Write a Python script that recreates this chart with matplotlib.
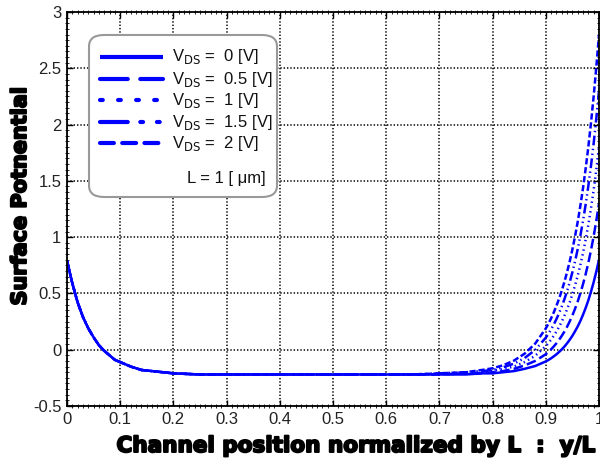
import matplotlib
matplotlib.use("Agg")
import matplotlib.pyplot as plt
import matplotlib.patheffects as pe
from matplotlib.lines import Line2D
from matplotlib.patches import FancyBboxPatch
from matplotlib.ticker import MultipleLocator

plt.rcParams['font.family'] = ['Liberation Sans', 'DejaVu Sans']
plt.rcParams['lines.scale_dashes'] = False

# normalized channel position y/L
pos = [0.00, 0.01, 0.02, 0.03, 0.04, 0.05, 0.06, 0.07, 0.08, 0.09, 0.10,
       0.12, 0.14, 0.16, 0.18, 0.20, 0.25, 0.30, 0.35, 0.40, 0.45, 0.50,
       0.55, 0.60, 0.65, 0.70, 0.75, 0.78, 0.80, 0.82, 0.84, 0.86, 0.88,
       0.90, 0.905, 0.91, 0.915, 0.92, 0.925, 0.93, 0.935, 0.94, 0.945,
       0.95, 0.955, 0.96, 0.965, 0.97, 0.975, 0.98, 0.985, 0.99, 0.995, 1.00]

# source side, identical for every drain bias
src = [0.79, 0.59, 0.42, 0.29, 0.19, 0.11, 0.04, -0.01, -0.05, -0.09, -0.11,
       -0.15, -0.18, -0.19, -0.20, -0.21, -0.22, -0.22, -0.22, -0.22, -0.22,
       -0.22, -0.22, -0.22, -0.22]

# drain side of each curve (from y/L = 0.70 on)
drn_0 = [-0.22, -0.22, -0.21, -0.21, -0.20, -0.19, -0.17, -0.145,
         -0.104, -0.091, -0.076, -0.059, -0.041, -0.020, 0.003, 0.028, 0.057,
         0.089, 0.124, 0.164, 0.207, 0.256, 0.311, 0.372, 0.440, 0.516,
         0.601, 0.695, 0.80]
drn_05 = [-0.22, -0.21, -0.21, -0.20, -0.19, -0.17, -0.14, -0.10,
          -0.04, -0.02, 0.004, 0.029, 0.057, 0.088, 0.123, 0.161, 0.204,
          0.252, 0.305, 0.364, 0.429, 0.502, 0.583, 0.673, 0.773, 0.885,
          1.009, 1.147, 1.30]
drn_1 = [-0.22, -0.21, -0.20, -0.19, -0.17, -0.15, -0.11, -0.054,
         0.032, 0.059, 0.090, 0.124, 0.162, 0.203, 0.250, 0.302, 0.359,
         0.422, 0.493, 0.571, 0.658, 0.754, 0.861, 0.980, 1.112, 1.258,
         1.420, 1.600, 1.80]
drn_15 = [-0.21, -0.20, -0.19, -0.18, -0.156, -0.124, -0.075, -0.002,
          0.107, 0.143, 0.181, 0.225, 0.272, 0.325, 0.384, 0.449, 0.521,
          0.600, 0.689, 0.786, 0.894, 1.014, 1.146, 1.293, 1.456, 1.636,
          1.835, 2.056, 2.30]
drn_2 = [-0.21, -0.20, -0.18, -0.165, -0.138, -0.097, -0.036, 0.054,
         0.189, 0.232, 0.279, 0.332, 0.390, 0.454, 0.525, 0.603, 0.690,
         0.785, 0.891, 1.008, 1.137, 1.280, 1.437, 1.612, 1.804, 2.017,
         2.253, 2.513, 2.80]

vds_labels = ['0', '0.5', '1', '1.5', '2']
series = [src + d for d in (drn_0, drn_05, drn_1, drn_15, drn_2)]

# dash patterns on the curves and (larger) in the key
curve_styles = ['-', (0, (7, 3)), (0, (1, 2.5)), (0, (7, 2.5, 1, 2.5, 1, 2.5)), (0, (4.5, 2))]
key_styles = ['-', (0, (20, 9)), (0, (2, 11)), (0, (20, 9, 2, 10, 2, 9)), (0, (10, 6))]

blue = '#0000ff'

fig = plt.figure(figsize=(6.0, 4.61), dpi=100)
ax = fig.add_axes([67 / 600, 1 - 406 / 461, 532 / 600, 394 / 461])

for ys, ls in zip(series, curve_styles):
    ax.plot(pos, ys, color=blue, lw=1.8, linestyle=ls, solid_capstyle='butt')

ax.set_xlim(0, 1)
ax.set_ylim(-0.5, 3)
ax.set_xticks([0, 0.1, 0.2, 0.3, 0.4, 0.5, 0.6, 0.7, 0.8, 0.9, 1])
ax.set_xticklabels(['0', '0.1', '0.2', '0.3', '0.4', '0.5', '0.6', '0.7', '0.8', '0.9', '1'])
ax.set_yticks([-0.5, 0, 0.5, 1, 1.5, 2, 2.5, 3])
ax.set_yticklabels(['-0.5', '0', '0.5', '1', '1.5', '2', '2.5', '3'])
ax.xaxis.set_minor_locator(MultipleLocator(0.01))
ax.yaxis.set_minor_locator(MultipleLocator(0.05))
ax.tick_params(which='major', direction='in', length=4, width=1.0, labelsize=12,
               colors='black', labelcolor='#222222', pad=4, top=True, right=True)
ax.tick_params(which='minor', direction='inout', length=2.5, width=0.6,
               top=True, right=True)
for sp in ax.spines.values():
    sp.set_linewidth(1.3)
    sp.set_color('black')

ax.grid(True, which='major', color='black', linestyle=(0, (1.0, 1.4)), linewidth=1.1)
ax.set_axisbelow(True)

heavy = [pe.withStroke(linewidth=1.4, foreground='black')]
ax.set_xlabel('Channel position normalized by L  :  y/L', fontsize=15.5,
              fontweight='bold', family=['DejaVu Sans'], path_effects=heavy)
ax.set_ylabel('Surface Potnential', fontsize=15, fontweight='bold',
              family=['DejaVu Sans'], path_effects=heavy)
ax.xaxis.set_label_coords((355 - 67) / 532, (406 - 446) / 394)
ax.yaxis.set_label_coords((20 - 67) / 532, (406 - 196) / 394)
ax.xaxis.label.set_va('center')
ax.yaxis.label.set_va('center')

# key box
box = FancyBboxPatch((89 / 600, 1 - 197 / 461), 188 / 600, 162 / 461,
                     boxstyle='round,pad=0,rounding_size=0.025',
                     transform=fig.transFigure, facecolor='white',
                     edgecolor='#999999', linewidth=1.5, zorder=5)
fig.patches.append(box)

row_y = [57, 79, 100, 122, 143]
for lab, ls, yy in zip(vds_labels, key_styles, row_y):
    yf = 1 - yy / 461
    fig.add_artist(Line2D([100 / 600, 163 / 600], [yf, yf], color=blue, lw=3,
                          linestyle=ls, solid_capstyle='butt',
                          dash_capstyle='round', zorder=6))
    fig.text(172 / 600, yf, r'V$_{\mathrm{DS}}$ =  ' + lab + ' [V]', fontsize=12,
             va='center', ha='left', zorder=7, color='#111111')
fig.text(187 / 600, 1 - 178 / 461, 'L = 1 [ \u03bcm]', fontsize=12,
         va='center', ha='left', zorder=7, color='#111111')

fig.savefig('out.png', dpi=100)
